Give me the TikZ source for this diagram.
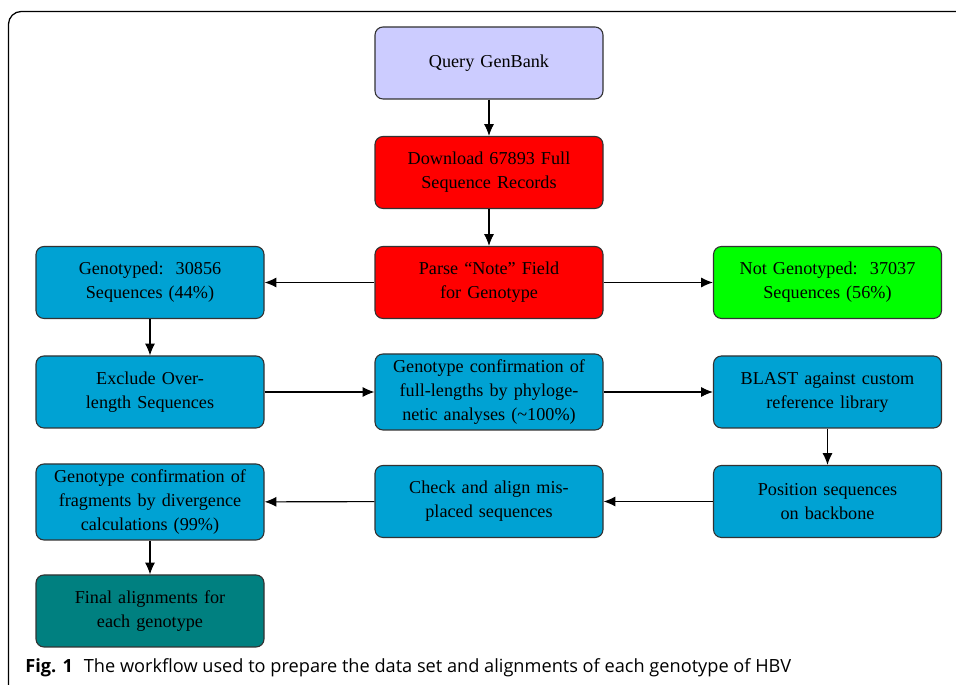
\documentclass[tikz,border=0pt]{standalone}
\usepackage{fontspec}
\setmainfont{Liberation Serif}
\newfontfamily\capfont{Open Sans}
\usetikzlibrary{arrows.meta}
\definecolor{lav}{RGB}{204,204,255}
\definecolor{boxred}{RGB}{255,0,0}
\definecolor{boxgreen}{RGB}{0,255,0}
\definecolor{boxblue}{RGB}{0,162,211}
\definecolor{boxteal}{RGB}{0,128,128}
\definecolor{boxedge}{RGB}{50,50,50}
\tikzset{
  flowbox/.style={draw=boxedge, line width=0.6pt, rounded corners=4.4pt,
    minimum width=125.4pt, minimum height=39.6pt, text width=118pt,
    align=center, font=\fontsize{10}{13.2}\selectfont, inner sep=2pt},
  conn/.style={draw=black, line width=0.6pt, -{Latex[length=6.5pt,width=5.5pt]}}
}
\begin{document}
\begin{tikzpicture}[x=0.55pt,y=-0.55pt]
\useasboundingbox (0,0) rectangle (956,685);
\begin{scope}
\clip (0,0) rectangle (956,685);
\draw[line width=0.7pt, rounded corners=7pt] (8.5,11.5) rectangle (1000,720);
\end{scope}
\node[flowbox, fill=lav] (query) at (489,63) {Query GenBank};
\node[flowbox, fill=boxred] (download) at (489,172.5) {Download 67893 Full\\Sequence Records};
\node[flowbox, fill=boxred] (parse) at (489,282.5) {Parse ``Note'' Field\\for Genotype};
\node[flowbox, fill=boxblue] (geno) at (150,282.5) {Genotyped:\ \ 30856\\Sequences (44\%)};
\node[flowbox, fill=boxgreen] (notgeno) at (827.5,282.5) {Not Genotyped:\ \ 37037\\Sequences (56\%)};
\node[flowbox, fill=boxblue] (exclude) at (150,392) {Exclude Over-\\length Sequences};
\node[flowbox, fill=boxblue, minimum height=41.8pt] (full) at (489,392) {Genotype confirmation of\\full-lengths by phyloge-\\netic analyses (\textasciitilde100\%)};
\node[flowbox, fill=boxblue] (blast) at (827.5,392) {BLAST against custom\\reference library};
\node[flowbox, fill=boxblue] (position) at (827.5,501.5) {Position sequences\\on backbone};
\node[flowbox, fill=boxblue] (check) at (489,501.5) {Check and align mis-\\placed sequences};
\node[flowbox, fill=boxblue, minimum height=41.8pt] (frag) at (150,502) {Genotype confirmation of\\fragments by divergence\\calculations (99\%)};
\node[flowbox, fill=boxteal] (final) at (150,611) {Final alignments for\\each genotype};
\draw[conn] (query) -- (download);
\draw[conn] (download) -- (parse);
\draw[conn] (parse) -- (geno);
\draw[conn] (parse) -- (notgeno);
\draw[conn] (geno) -- (exclude);
\draw[conn] (exclude) -- (full);
\draw[conn] (full) -- (blast);
\draw[conn] (blast) -- (position);
\draw[conn] (position) -- (check);
\draw[conn] (check) -- (frag);
\draw[conn] (frag) -- (final);
\node[anchor=base west, inner sep=0pt, font=\capfont\fontsize{10}{12}\selectfont] (caption) at (25,673) {\textbf{Fig. 1}\hspace{0.6em}The workflow used to prepare the data set and alignments of each genotype of HBV};
\end{tikzpicture}
\end{document}
